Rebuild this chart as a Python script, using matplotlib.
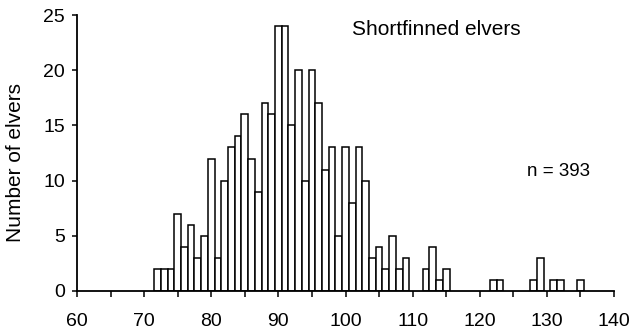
import numpy as np
import matplotlib
matplotlib.use('Agg')
from matplotlib import pyplot as plt
from matplotlib.ticker import MultipleLocator

plt.rcParams['font.family'] = ['Liberation Sans', 'DejaVu Sans']

# length class (mm) and number of elvers in each
lengths = [72, 73, 74, 75, 76, 77, 78, 79, 80, 81, 82, 83, 84, 85, 86, 87, 88, 89,
           90, 91, 92, 93, 94, 95, 96, 97, 98, 99, 100, 101, 102, 103, 104, 105,
           106, 107, 108, 109, 112, 113, 114, 115, 122, 123, 128, 129, 131, 132, 135]
counts = [2, 2, 2, 7, 4, 6, 3, 5, 12, 3, 10, 13, 14, 16, 12, 9, 17, 16,
          24, 24, 15, 20, 10, 20, 17, 11, 13, 5, 13, 8, 13, 10, 3, 4,
          2, 5, 2, 3, 2, 4, 1, 2, 1, 1, 1, 3, 1, 1, 1]

fig = plt.figure(figsize=(6.35, 3.32), dpi=100)
ax = fig.add_axes([0.1213, 0.1235, 0.8457, 0.8313])

ax.bar(lengths, counts, width=1.0, align='center', color='white',
       edgecolor='black', linewidth=1.1)

ax.set_xlim(60, 140)
ax.set_ylim(0, 25)
ax.xaxis.set_major_locator(MultipleLocator(10))
ax.xaxis.set_minor_locator(MultipleLocator(5))
ax.yaxis.set_major_locator(MultipleLocator(5))
ax.spines['top'].set_visible(False)
ax.spines['right'].set_visible(False)
ax.spines['left'].set_linewidth(1.3)
ax.spines['bottom'].set_linewidth(1.3)
ax.tick_params(axis='both', which='both', direction='out', labelsize=14, width=1.1)
ax.tick_params(axis='x', which='both', length=4.5, pad=11)
ax.tick_params(axis='y', length=3.5, pad=5)

fig.text(16 / 635, 1 - 162 / 332, 'Number of elvers', fontsize=15,
         rotation=90, ha='center', va='center')
ax.text(101, 23.7, 'Shortfinned elvers', fontsize=15, va='center', ha='left')
ax.text(127, 10.8, 'n = 393', fontsize=13.5, va='center', ha='left')

fig.savefig('out.png', dpi=100)
